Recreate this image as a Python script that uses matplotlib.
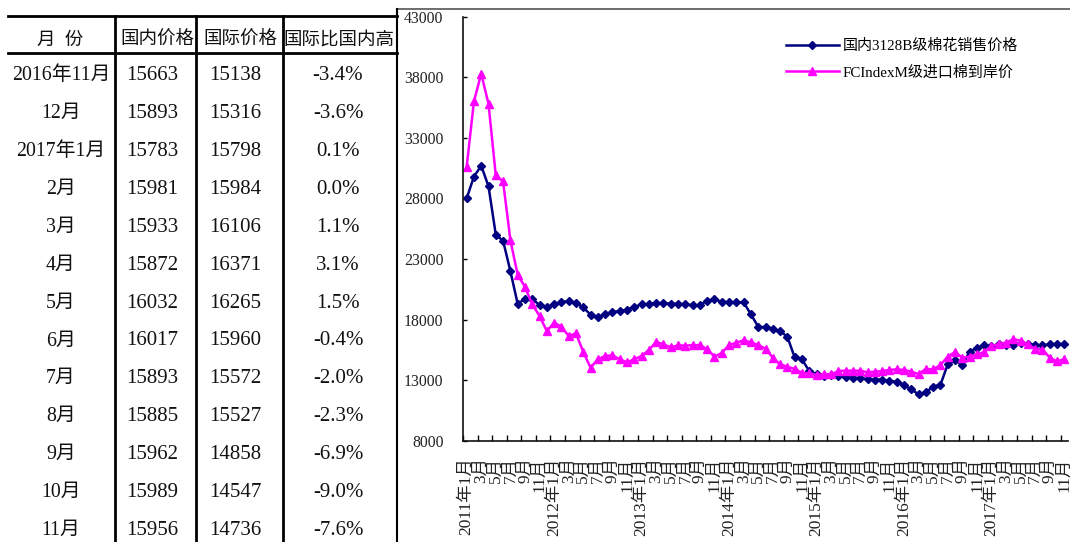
import numpy as np
import matplotlib
matplotlib.use('Agg')
import matplotlib.pyplot as plt
from matplotlib.lines import Line2D

plt.rcParams['font.family'] = ['Liberation Serif', 'Noto Sans CJK SC']
plt.rcParams['axes.unicode_minus'] = False

# 折线图数据（2011年1月 - 2017年11月，元/吨）
domestic = [28000, 29800, 30700, 29000, 25000, 24500, 22000, 19300, 19700, 19700, 19200, 19050,
            19250, 19450, 19520, 19400, 19000, 18400, 18230, 18430, 18620, 18700, 18800, 19050,
            19250, 19260, 19340, 19340, 19310, 19290, 19260, 19180, 19180, 19560, 19660, 19480,
            19420, 19420, 19420, 18430, 17410, 17360, 17220, 17050, 16580, 14880, 14720, 13750,
            13500, 13340, 13400, 13340, 13280, 13200, 13150, 13070, 13040, 13040, 12930, 12870,
            12600, 12240, 11830, 12000, 12460, 12620, 14300, 14660, 14250, 15350, 15663, 15893,
            15783, 15981, 15933, 15872, 16032, 16017, 15893, 15885, 15962, 15989, 15956]
fcindex = [30600, 36000, 38300, 35800, 29900, 29400, 24550, 21700, 20700, 19250, 18300, 17050,
           17740, 17410, 16640, 16860, 15320, 14030, 14720, 14990, 15050, 14720, 14470, 14720,
           14990, 15490, 16150, 15960, 15710, 15870, 15850, 15880, 15890, 15560, 14940, 15240,
           15900, 16090, 16280, 16120, 15900, 15600, 14850, 14300, 14110, 13920, 13610, 13560,
           13420, 13500, 13480, 13750, 13780, 13780, 13780, 13650, 13700, 13750, 13840, 13890,
           13840, 13700, 13500, 13920, 13890, 14250, 14940, 15320, 14850, 14940, 15138, 15316,
           15798, 15984, 16106, 16371, 16265, 15960, 15572, 15527, 14858, 14547, 14736]
years = [2011, 2012, 2013, 2014, 2015, 2016, 2017]
series_names = ['国内3128B级棉花销售价格', 'FCIndexM级进口棉到岸价']

# 表格数据
tbl_header = ['月  份', '国内价格', '国际价格', '国际比国内高']
tbl_month = ['2016年11月', '12月', '2017年1月', '2月', '3月', '4月', '5月',
             '6月', '7月', '8月', '9月', '10月', '11月']
tbl_dom = [15663, 15893, 15783, 15981, 15933, 15872, 16032, 16017, 15893, 15885, 15962, 15989, 15956]
tbl_intl = [15138, 15316, 15798, 15984, 16106, 16371, 16265, 15960, 15572, 15527, 14858, 14547, 14736]
tbl_diff = ['-3.4%', '-3.6%', '0.1%', '0.0%', '1.1%', '3.1%', '1.5%',
            '-0.4%', '-2.0%', '-2.3%', '-6.9%', '-9.0%', '-7.6%']

W, H = 1070, 542
fig = plt.figure(figsize=(W / 100, H / 100), dpi=100)


def fx(x):
    return x / W


def fy(y):
    return 1 - y / H


def hline(y, x0, x1, lw=2.0, color='black'):
    fig.add_artist(Line2D([fx(x0), fx(x1)], [fy(y), fy(y)], lw=lw, color=color))


def vline(x, y0, y1, lw=2.0, color='black'):
    fig.add_artist(Line2D([fx(x), fx(x)], [fy(y0), fy(y1)], lw=lw, color=color))


# 表格框线
hline(9, 397, W, lw=1.2, color='#555555')
hline(16, 8, 397)
hline(53, 8, 397)
for xv in [115, 196, 283]:
    vline(xv, 16, H)
vline(397, 9, H, lw=1.5)

# 表头
hdr_x = [60, 157, 240, 339]
for x, t in zip(hdr_x, tbl_header):
    fig.text(fx(x), fy(40), t, ha='center', va='center', fontsize=13.3, color='#111111')

# 表格内容
for i in range(len(tbl_month)):
    y = 76 + 37.85 * i
    fig.text(fx(61), fy(y), tbl_month[i], ha='center', va='center', fontsize=14.3, color='#111111')
    fig.text(fx(152), fy(y), str(tbl_dom[i]), ha='center', va='center', fontsize=15, color='#111111')
    fig.text(fx(235), fy(y), str(tbl_intl[i]), ha='center', va='center', fontsize=15, color='#111111')
    fig.text(fx(338), fy(y), tbl_diff[i], ha='center', va='center', fontsize=15, color='#111111')

# 折线图
ax = fig.add_axes([fx(463), fy(440.7), fx(1068) - fx(463), fy(16.7) - fy(440.7)])
x = np.arange(len(domestic))
ax.plot(x, domestic, color='#000080', lw=1.8, marker='D', markersize=4.2, label=series_names[0])
ax.plot(x, fcindex, color='#FF00FF', lw=1.8, marker='^', markersize=5.5, label=series_names[1])

ax.set_xlim(-0.5, len(domestic) - 0.5)
ax.set_ylim(8000, 43000)
ax.set_yticks(np.arange(8000, 43001, 5000))
ax.tick_params(axis='y', direction='in', length=3, width=1, pad=14, labelsize=11.3, labelcolor='#222222')

# 刻度线在类别之间，标签在类别上
ax.set_xticks(np.arange(-0.5, len(domestic), 2))
ax.set_xticklabels([])
ax.tick_params(axis='x', which='major', direction='in', length=4, width=1)
labels = []
for i in range(0, len(domestic), 2):
    m = i % 12 + 1
    labels.append(f'{years[i // 12]}年1月' if m == 1 else f'{m}月')
ax.set_xticks(np.arange(0, len(domestic), 2), minor=True)
ax.set_xticklabels(labels, minor=True, rotation=90, fontsize=12.5, color='#222222')
ax.tick_params(axis='x', which='minor', length=0, pad=12)

for s in ['top', 'right']:
    ax.spines[s].set_visible(False)
for s in ['left', 'bottom']:
    ax.spines[s].set_linewidth(1.2)
    ax.spines[s].set_color('#111111')

ax.legend(loc='upper left', bbox_to_anchor=(fx(786), fy(39)), bbox_transform=fig.transFigure,
          frameon=False, fontsize=10.8, handlelength=3.5, handletextpad=0.3,
          labelspacing=0.8, borderpad=0, borderaxespad=0)

fig.savefig('out.png', dpi=100)
